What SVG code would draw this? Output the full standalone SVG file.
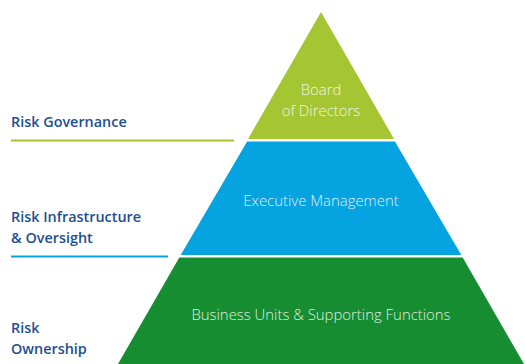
<svg xmlns="http://www.w3.org/2000/svg" width="525" height="364" viewBox="0 0 525 364">
<style>
.lbl{font-family:"Open Sans","Liberation Sans",sans-serif;font-weight:600;font-size:14.4px;fill:#1d4f91}
.in{font-family:"Open Sans","Liberation Sans",sans-serif;font-weight:300;font-size:14.9px;fill:#ffffff;fill-opacity:0.88;text-anchor:middle}
</style>
<rect width="525" height="364" fill="#ffffff"/>
<g id="connectors">
<line x1="11" y1="140.5" x2="234" y2="140.5" stroke="#a5c632" stroke-width="2"/>
<line x1="11" y1="256.5" x2="168" y2="256.5" stroke="#05a3df" stroke-width="2"/>
</g>
<g id="board">
<polygon points="321,12 394,139 248,139" fill="#a5c632"/>
<text class="in" x="321" y="95">Board</text>
<text class="in" x="321" y="115.5">of Directors</text>
</g>
<g id="executive">
<polygon points="247.1,141.5 394.9,141.5 461.3,255 180.7,255" fill="#05a3df"/>
<text class="in" x="321" y="205.5">Executive Management</text>
</g>
<g id="business">
<polygon points="179.3,257.5 462.7,257.5 524,364 118,364" fill="#178d32"/>
<text class="in" x="321" y="320">Business Units &amp; Supporting Functions</text>
</g>
<g id="labels">
<text class="lbl" x="11" y="126.5">Risk Governance</text>
<text class="lbl" x="11" y="221.5">Risk Infrastructure</text>
<text class="lbl" x="11" y="242.5">&amp; Oversight</text>
<text class="lbl" x="11" y="333">Risk</text>
<text class="lbl" x="11" y="353.5">Ownership</text>
</g>
</svg>
